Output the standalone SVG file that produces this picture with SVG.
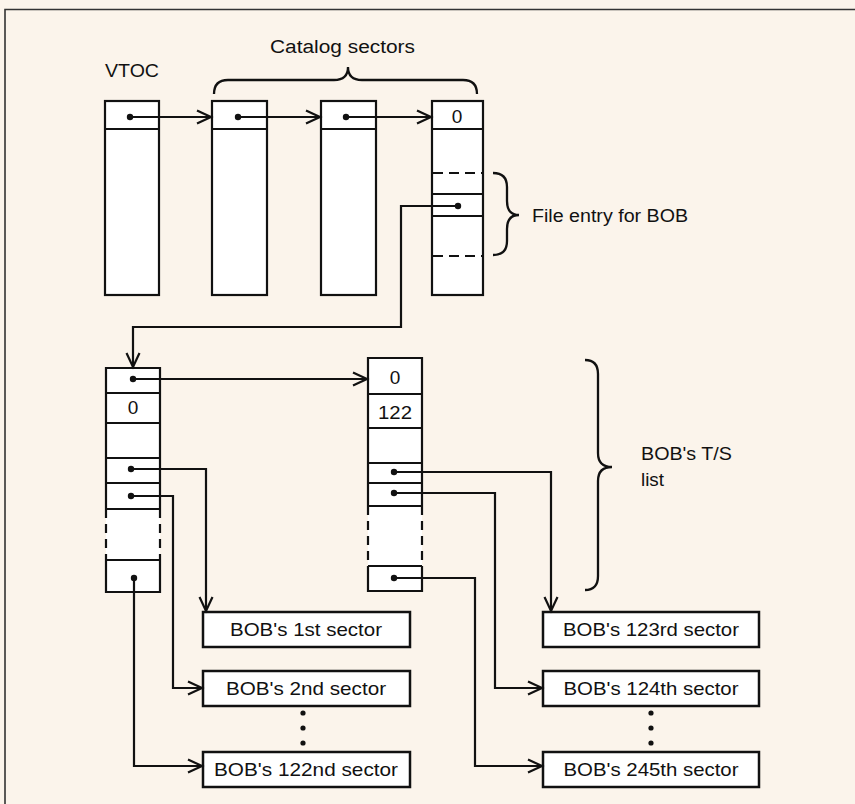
<svg xmlns="http://www.w3.org/2000/svg" width="855" height="804" viewBox="0 0 855 804">
<defs>
<style>
.bg{fill:#fbf4eb}
.box{fill:#ffffff;stroke:#111;stroke-width:2.2}
.ln{fill:none;stroke:#111;stroke-width:2.2}
.dash{fill:none;stroke:#111;stroke-width:2.2;stroke-dasharray:10 6}
.vdash{fill:none;stroke:#111;stroke-width:2.2;stroke-dasharray:9 6}
.sbox{fill:#ffffff;stroke:#111;stroke-width:2.5}
.dot{fill:#111}
.con{fill:none;stroke:#111;stroke-width:2.2;marker-end:url(#arr)}
.brace{fill:none;stroke:#111;stroke-width:2.3}
text{font-family:"Liberation Sans",Arial,Helvetica,sans-serif;fill:#111}
.lab{font-size:18px}
.num{font-size:19px;text-anchor:middle}
.sec{font-size:19px;text-anchor:middle}
</style>
<marker id="arr" markerUnits="userSpaceOnUse" markerWidth="20" markerHeight="20" viewBox="-16 -10 18 20" refX="0" refY="0" orient="auto">
<path d="M-14,-6.5 L0,0 L-14,6.5" fill="none" stroke="#111" stroke-width="2.2"/>
</marker>
</defs>
<rect class="bg" x="0" y="0" width="855" height="804"/>
<path d="M5,804 L5,9.5 L855,9.5" fill="none" stroke="#333" stroke-width="1.6"/>

<g id="labels">
<text class="lab" x="105" y="77" font-size="19" textLength="54" lengthAdjust="spacingAndGlyphs">VTOC</text>
<text class="lab" x="270" y="53" textLength="145" lengthAdjust="spacingAndGlyphs">Catalog sectors</text>
<text class="lab" x="532" y="222" font-size="17" textLength="156" lengthAdjust="spacingAndGlyphs">File entry for BOB</text>
<text class="lab" x="641" y="460" font-size="18" textLength="91" lengthAdjust="spacingAndGlyphs">BOB's T/S</text>
<text class="lab" x="641" y="486" font-size="18" textLength="23" lengthAdjust="spacingAndGlyphs">list</text>
<path class="brace" d="M214,94 Q214,80 228,80 L334,80 Q348,80 348,67 Q348,80 362,80 L463,80 Q477,80 477,94"/>
<path class="brace" d="M493,173 Q507,173 507,187 L507,201 Q507,215 519,215 Q507,215 507,229 L507,241 Q507,255 493,255"/>
<path class="brace" d="M585,360 Q598,360 598,374 L598,453 Q598,467 612,467 Q598,467 598,481 L598,576 Q598,590 585,590"/>
</g>

<g id="vtoc">
<rect class="box" x="105" y="101" width="54" height="194"/>
<line class="ln" x1="105" y1="129" x2="159" y2="129"/>
<circle class="dot" cx="130" cy="117" r="3.2"/>
</g>

<g id="catalog1">
<rect class="box" x="212" y="101" width="55" height="194"/>
<line class="ln" x1="212" y1="129" x2="267" y2="129"/>
<circle class="dot" cx="238" cy="117" r="3.2"/>
</g>

<g id="catalog2">
<rect class="box" x="321" y="101" width="55" height="194"/>
<line class="ln" x1="321" y1="129" x2="376" y2="129"/>
<circle class="dot" cx="346" cy="117" r="3.2"/>
</g>

<g id="catalog3">
<rect class="box" x="432" y="101" width="51" height="194"/>
<line class="ln" x1="432" y1="129" x2="483" y2="129"/>
<text class="num" x="457" y="123" font-size="16">0</text>
<line class="dash" x1="433" y1="173" x2="483" y2="173"/>
<line class="ln" x1="432" y1="194" x2="483" y2="194"/>
<line class="ln" x1="432" y1="216" x2="483" y2="216"/>
<line class="dash" x1="433" y1="256" x2="483" y2="256"/>
<circle class="dot" cx="458" cy="206" r="3.2"/>
</g>

<g id="ts1">
<rect x="106" y="368" width="54" height="224" fill="#fff"/>
<path class="ln" d="M106,509 L106,368 L160,368 L160,509"/>
<path class="vdash" d="M106,509 L106,560 M160,509 L160,560"/>
<path class="ln" d="M106,560 L106,592 L160,592 L160,560"/>
<line class="ln" x1="106" y1="393" x2="160" y2="393"/>
<line class="ln" x1="106" y1="423" x2="160" y2="423"/>
<line class="ln" x1="106" y1="458" x2="160" y2="458"/>
<line class="ln" x1="106" y1="483" x2="160" y2="483"/>
<line class="ln" x1="106" y1="509" x2="160" y2="509"/>
<line class="ln" x1="106" y1="560" x2="160" y2="560"/>
<text class="num" x="133" y="414">0</text>
<circle class="dot" cx="133" cy="379" r="3.2"/>
<circle class="dot" cx="131" cy="469" r="3.2"/>
<circle class="dot" cx="131" cy="496" r="3.2"/>
<circle class="dot" cx="134" cy="578" r="3.2"/>
</g>

<g id="ts2">
<rect x="368" y="358" width="54" height="233" fill="#fff"/>
<path class="ln" d="M368,506 L368,358 L422,358 L422,506"/>
<path class="vdash" d="M368,506 L368,566 M422,506 L422,566"/>
<path class="ln" d="M368,566 L368,591 L422,591 L422,566"/>
<line class="ln" x1="368" y1="394" x2="422" y2="394"/>
<line class="ln" x1="368" y1="428" x2="422" y2="428"/>
<line class="ln" x1="368" y1="463" x2="422" y2="463"/>
<line class="ln" x1="368" y1="483" x2="422" y2="483"/>
<line class="ln" x1="368" y1="506" x2="422" y2="506"/>
<line class="ln" x1="368" y1="566" x2="422" y2="566"/>
<text class="num" x="395" y="384">0</text>
<text class="num" x="395" y="419" textLength="34" lengthAdjust="spacingAndGlyphs">122</text>
<circle class="dot" cx="394" cy="472" r="3.2"/>
<circle class="dot" cx="394" cy="493" r="3.2"/>
<circle class="dot" cx="394" cy="578" r="3.2"/>
</g>

<g id="sec1">
<rect class="sbox" x="203" y="612" width="207" height="35"/>
<text class="sec" x="306" y="636" textLength="152" lengthAdjust="spacingAndGlyphs">BOB's 1st sector</text>
</g>
<g id="sec2">
<rect class="sbox" x="203" y="671" width="207" height="35"/>
<text class="sec" x="306" y="695" textLength="160" lengthAdjust="spacingAndGlyphs">BOB's 2nd sector</text>
</g>
<g id="sec122">
<rect class="sbox" x="203" y="752" width="207" height="35"/>
<text class="sec" x="306" y="776" textLength="184" lengthAdjust="spacingAndGlyphs">BOB's 122nd sector</text>
</g>
<g id="sec123">
<rect class="sbox" x="543" y="612" width="216" height="35"/>
<text class="sec" x="651" y="636" textLength="176" lengthAdjust="spacingAndGlyphs">BOB's 123rd sector</text>
</g>
<g id="sec124">
<rect class="sbox" x="543" y="671" width="216" height="35"/>
<text class="sec" x="651" y="695" textLength="175" lengthAdjust="spacingAndGlyphs">BOB's 124th sector</text>
</g>
<g id="sec245">
<rect class="sbox" x="543" y="752" width="216" height="35"/>
<text class="sec" x="651" y="776" textLength="175" lengthAdjust="spacingAndGlyphs">BOB's 245th sector</text>
</g>

<g id="ellipsis">
<circle class="dot" cx="303" cy="713" r="2.6"/>
<circle class="dot" cx="303" cy="728" r="2.6"/>
<circle class="dot" cx="303" cy="743" r="2.6"/>
<circle class="dot" cx="651" cy="713" r="2.6"/>
<circle class="dot" cx="651" cy="728" r="2.6"/>
<circle class="dot" cx="651" cy="743" r="2.6"/>
</g>

<g id="connectors">
<path class="con" d="M130,117 L211,117"/>
<path class="con" d="M238,117 L320,117"/>
<path class="con" d="M346,117 L431,117"/>
<path class="con" d="M458,206 L401,206 L401,327 L133,327 L133,367"/>
<path class="con" d="M133,379 L367,379"/>
<path class="con" d="M131,469 L206,469 L206,611"/>
<path class="con" d="M131,496 L173,496 L173,688 L202,688"/>
<path class="con" d="M134,578 L134,766 L202,766"/>
<path class="con" d="M394,472 L551,472 L551,611"/>
<path class="con" d="M394,493 L495,493 L495,688 L542,688"/>
<path class="con" d="M394,578 L475,578 L475,766 L542,766"/>
</g>
</svg>
